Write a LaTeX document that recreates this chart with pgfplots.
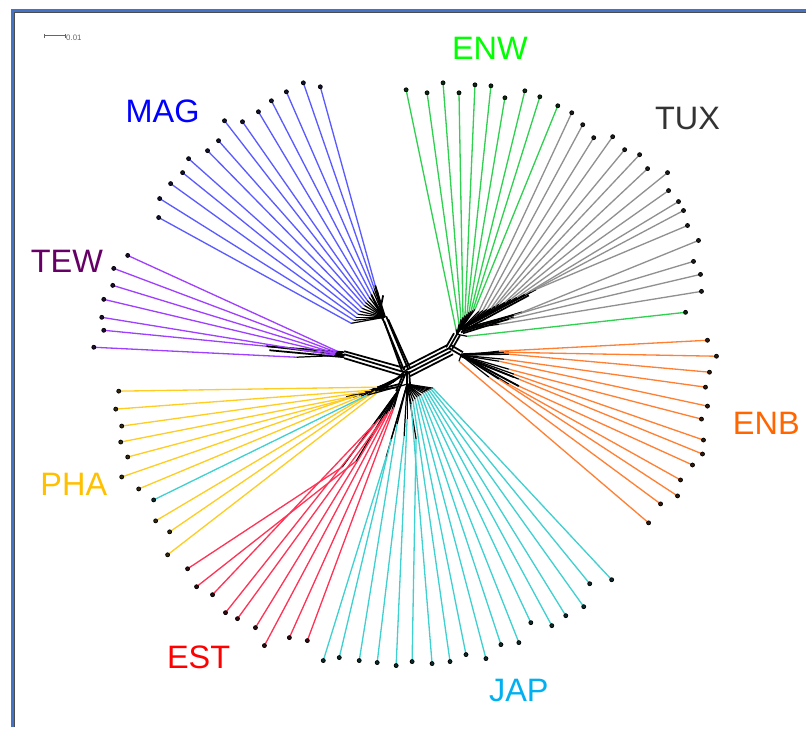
\documentclass[border=0pt]{standalone}
\usepackage{fontspec}
\setmainfont{Liberation Sans}
\usepackage{pgfplots}
\usepackage{pgfplotstable}
\pgfplotsset{compat=1.18}

\definecolor{magline}{HTML}{5A5AFF}
\definecolor{tewline}{HTML}{A040FF}
\definecolor{phaline}{HTML}{FFCC22}
\definecolor{estline}{HTML}{FF3355}
\definecolor{japline}{HTML}{40D0D0}
\definecolor{enbline}{HTML}{FF8033}
\definecolor{tuxline}{HTML}{909090}
\definecolor{enwline}{HTML}{30D050}
\definecolor{framebl}{HTML}{4472C4}
\tikzset{lab/.style={font=\fontsize{18.5}{20}\selectfont, inner sep=0pt}}

% leaf (lx,ly) -> start of the coloured edge (jx,jy), pixel units, y down
\pgfplotstableread{
lx ly jx jy
321 87 376 286
304 83 375 289
287 92 374 292
272 101 372 295
259 112 370 298
243 122 368 301
225 121 366 303
219 141 365 306
208 151 363 309
189 159 361 312
183 173 359 315
171 184 357 318
160 199 355 321
159 218 352 324
}\tMag

\pgfplotstableread{
lx ly jx jy
128 256 338 352
114 269 337 353
113 286 336 354
104 300 336 355
102 318 335 356
104 331 267 347
94 348 297 358
}\tTew

\pgfplotstableread{
lx ly jx jy
119 392 378 388
116 410 372 391
122 427 366 393
121 443 360 396
128 458 354 398
122 478 350 399
139 490 362 397
156 522 370 395
170 533 376 392
168 556 380 392
}\tPha

\pgfplotstableread{
lx ly jx jy
188 570 343 468
197 588 357 462
213 596 375 425
226 614 380 420
238 620 385 418
256 629 387 415
265 647 390 412
290 639 393 410
308 642 395 408
}\tEst

\pgfplotstableread{
lx ly jx jy
154 501 368 396
324 662 387 458
340 659 392 440
360 662 398 425
378 664 405 437
397 667 408 420
413 663 417 440
433 665 412 405
451 663 414 402
467 656 416 400
487 660 418 398
502 646 420 397
520 644 422 396
532 624 424 394
553 627 426 393
567 617 428 392
585 608 430 391
591 585 432 390
613 581 434 389
}\tJap

\pgfplotstableread{
lx ly jx jy
407 90 457 330
428 93 460 325
444 83 462 320
460 93 464 318
476 85 466 316
492 86 468 315
506 98 470 313
526 91 472 312
541 97 474 311
559 106 476 310
687 313 468 337
}\tEnw

\pgfplotstableread{
lx ly jx jy
573 113 480 312
584 125 484 311
595 138 488 310
614 137 492 309
626 150 496 307
641 155 500 305
649 169 506 303
669 173 512 300
670 191 518 298
680 202 526 295
685 211 532 292
689 226 537 290
700 241 523 313
695 262 515 316
702 275 510 320
703 292 500 325
}\tTux

\pgfplotstableread{
lx ly jx jy
709 341 500 352
718 357 505 353
711 373 510 355
707 388 505 360
709 407 500 362
703 420 510 370
705 441 515 375
704 455 520 380
694 466 520 387
682 481 510 385
679 497 500 380
662 505 490 378
650 524 460 362
}\tEnb

% black network bands
\pgfplotstableread{
xa ya xb yb
383 318 405 371
387 317 409 370
385 322 403 372
389 320 411 369
380 316 384 296
384 318 378 292
376 286 386 318
372 295 384 321
345 355 405 373
345 359 405 377
345 352 406 369
267 347 345 353
270 351 345 358
395 382 407 371
390 385 405 375
380 388 404 376
347 398 400 385
352 396 398 388
400 390 407 373
397 392 404 375
408 385 408 372
411 386 410 372
407 371 450 349
409 374 452 352
405 368 448 346
411 377 454 355
450 349 458 335
453 350 461 336
447 348 455 334
450 349 462 356
452 346 464 353
462 330 537 290
463 332 530 296
462 333 523 313
464 334 515 318
462 356 520 387
462 357 515 378
462 355 510 353
}\tBands

\newcommand{\grp}[4]{%
  \addplot[black, line width=0.7pt, quiver={u=#2-\thisrow{jx}, v=#3-\thisrow{jy}}] table[x=jx,y=jy]{#1};
  \addplot[#4, line width=0.75pt, quiver={u=\thisrow{jx}-\thisrow{lx}, v=\thisrow{jy}-\thisrow{ly}}] table[x=lx,y=ly]{#1};
  \addplot[only marks, mark=*, mark size=1.15pt, mark options={draw=none, fill=black!80!#4}] table[x=lx,y=ly]{#1};
}

\begin{document}
\begin{tikzpicture}
\begin{axis}[
  width=16.16cm, height=14.58cm, scale only axis,
  xmin=0, xmax=808, ymin=0, ymax=729, y dir=reverse,
  hide axis, clip=false,
]
\fill[white] (axis cs:0,0) rectangle (axis cs:808,729);
% frame
\draw[framebl, line width=2pt] (axis cs:13,729) -- (axis cs:13,11) -- (axis cs:808,11);
\draw[black!70, line width=0.5pt] (axis cs:14.8,729) -- (axis cs:14.8,12.8) -- (axis cs:808,12.8);
% scale bar
\draw[black!60, line width=0.5pt] (axis cs:45,36) -- (axis cs:66,36);
\draw[black!60, line width=0.5pt] (axis cs:45,34) -- (axis cs:45,38);
\draw[black!60, line width=0.5pt] (axis cs:66,34) -- (axis cs:66,38);
\node[anchor=west, inner sep=0pt, text=black!60, font=\fontsize{4.5}{5}\selectfont] at (axis cs:66,38) {0.01};

\addplot[black, line width=1pt, quiver={u=\thisrow{xb}-\thisrow{xa}, v=\thisrow{yb}-\thisrow{ya}}] table[x=xa,y=ya]{\tBands};

\grp{\tMag}{385}{318}{magline}
\grp{\tTew}{345}{356}{tewline}
\grp{\tPha}{395}{382}{phaline}
\grp{\tEst}{400}{390}{estline}
\grp{\tJap}{408}{385}{japline}
\grp{\tEnw}{458}{335}{enwline}
\grp{\tTux}{462}{330}{tuxline}
\grp{\tEnb}{462}{356}{enbline}

\node[lab, text={rgb,255:red,0;green,0;blue,255}] at (axis cs:163,112) {MAG};
\node[lab, text={rgb,255:red,102;green,0;blue,102}] at (axis cs:67,262) {TEW};
\node[lab, text={rgb,255:red,255;green,192;blue,0}] at (axis cs:74,485) {PHA};
\node[lab, text={rgb,255:red,255;green,0;blue,0}] at (axis cs:199,659) {EST};
\node[lab, text={rgb,255:red,0;green,176;blue,240}] at (axis cs:520,692) {JAP};
\node[lab, text={rgb,255:red,255;green,102;blue,0}] at (axis cs:768,424) {ENB};
\node[lab, text={rgb,255:red,51;green,51;blue,51}] at (axis cs:689,119) {TUX};
\node[lab, text={rgb,255:red,0;green,255;blue,0}] at (axis cs:491,48) {ENW};
\end{axis}
\end{tikzpicture}
\end{document}
